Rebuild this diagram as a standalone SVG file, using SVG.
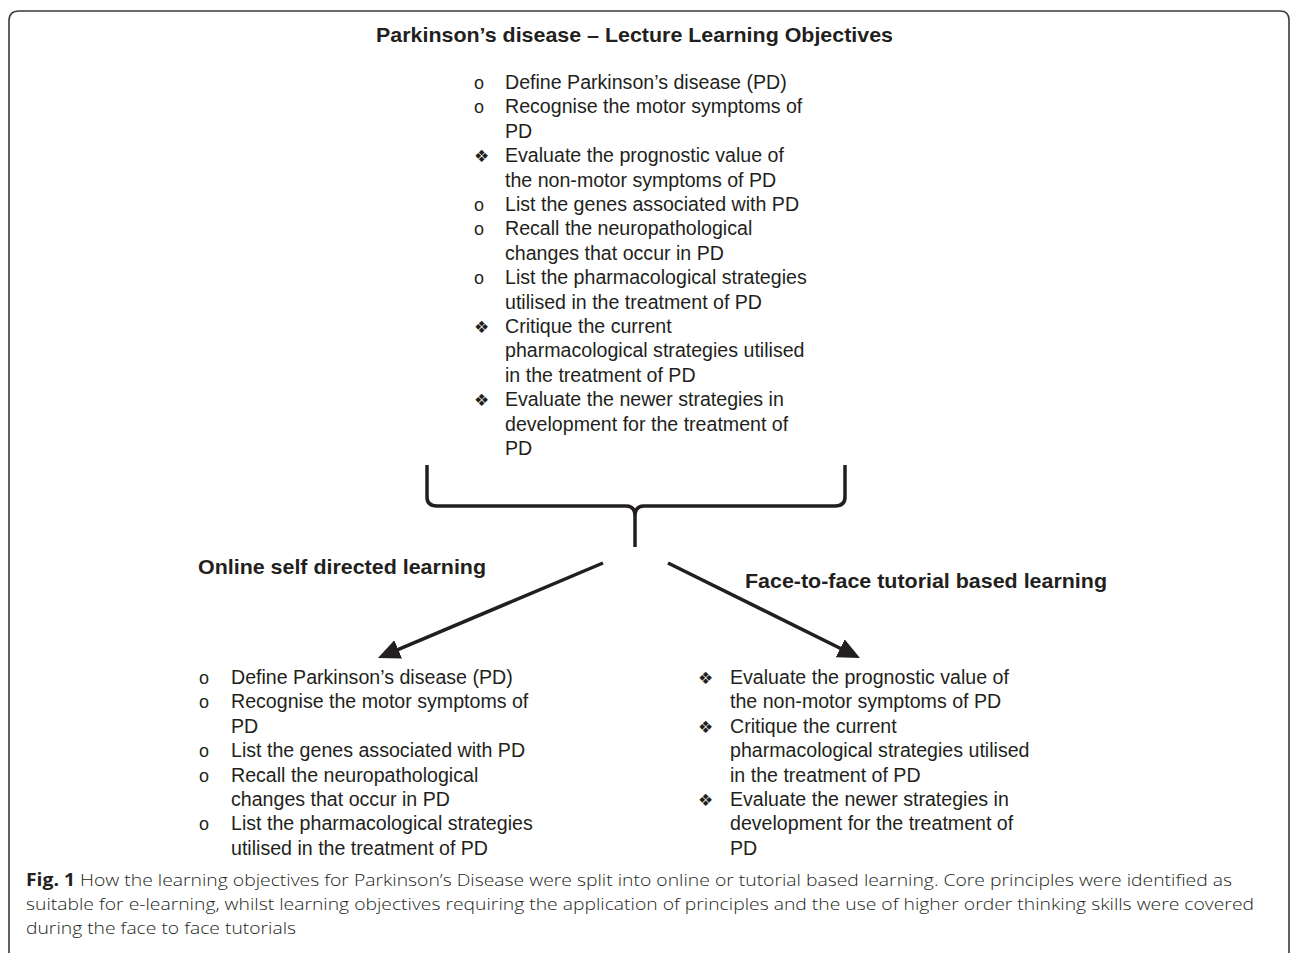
<svg xmlns="http://www.w3.org/2000/svg" width="1290" height="953" viewBox="0 0 1290 953">
<style>
.t{font-family:"Liberation Sans",Arial,sans-serif;font-size:19.6px;fill:#231f20}
.h{font-family:"Liberation Sans",Arial,sans-serif;font-size:20.5px;font-weight:bold;fill:#231f20}
.o{font-family:"Liberation Sans",Arial,sans-serif;font-size:18px;fill:#231f20}
.d{font-family:"DejaVu Sans",sans-serif;font-size:17px;fill:#231f20}
.c{font-family:"Open Sans","Liberation Sans",sans-serif;font-size:17px;fill:#231f20;font-weight:300}
.cb{font-weight:bold}
.ln{stroke:#231f20;stroke-width:3.5;fill:none}
</style>
<defs>
<marker id="ah" markerUnits="userSpaceOnUse" markerWidth="24" markerHeight="22" refX="10" refY="10" orient="auto">
<path d="M0,0 L22,10 L0,20 z" fill="#231f20"/>
</marker>
</defs>
<rect x="0" y="0" width="1290" height="953" fill="#fff"/>
<path d="M9,956 L9,21 Q9,11 19,11 L1280,11 Q1289,11 1289,20 L1289,960" fill="none" stroke="#3a3a3a" stroke-width="1.6"/>

<g id="title">
<text class="h" x="376" y="42" textLength="517" lengthAdjust="spacingAndGlyphs">Parkinson’s disease – Lecture Learning Objectives</text>
</g>

<g id="lecture-objectives">
<text class="o" x="474" y="89">o</text><text class="t" x="505" y="89">Define Parkinson’s disease (PD)</text>
<text class="o" x="474" y="113.4">o</text><text class="t" x="505" y="113.4">Recognise the motor symptoms of</text>
<text class="t" x="505" y="137.8">PD</text>
<text class="d" x="474" y="162.2">❖</text><text class="t" x="505" y="162.2">Evaluate the prognostic value of</text>
<text class="t" x="505" y="186.6">the non-motor symptoms of PD</text>
<text class="o" x="474" y="211">o</text><text class="t" x="505" y="211">List the genes associated with PD</text>
<text class="o" x="474" y="235.4">o</text><text class="t" x="505" y="235.4">Recall the neuropathological</text>
<text class="t" x="505" y="259.8">changes that occur in PD</text>
<text class="o" x="474" y="284.2">o</text><text class="t" x="505" y="284.2">List the pharmacological strategies</text>
<text class="t" x="505" y="308.6">utilised in the treatment of PD</text>
<text class="d" x="474" y="333">❖</text><text class="t" x="505" y="333">Critique the current</text>
<text class="t" x="505" y="357.4">pharmacological strategies utilised</text>
<text class="t" x="505" y="381.8">in the treatment of PD</text>
<text class="d" x="474" y="406.2">❖</text><text class="t" x="505" y="406.2">Evaluate the newer strategies in</text>
<text class="t" x="505" y="430.6">development for the treatment of</text>
<text class="t" x="505" y="455">PD</text>
</g>

<g id="online">
<text class="h" x="198" y="574" textLength="288" lengthAdjust="spacingAndGlyphs">Online self directed learning</text>
<text class="o" x="199" y="684">o</text><text class="t" x="231" y="684">Define Parkinson’s disease (PD)</text>
<text class="o" x="199" y="708.4">o</text><text class="t" x="231" y="708.4">Recognise the motor symptoms of</text>
<text class="t" x="231" y="732.8">PD</text>
<text class="o" x="199" y="757.2">o</text><text class="t" x="231" y="757.2">List the genes associated with PD</text>
<text class="o" x="199" y="781.6">o</text><text class="t" x="231" y="781.6">Recall the neuropathological</text>
<text class="t" x="231" y="806">changes that occur in PD</text>
<text class="o" x="199" y="830.4">o</text><text class="t" x="231" y="830.4">List the pharmacological strategies</text>
<text class="t" x="231" y="854.8">utilised in the treatment of PD</text>
</g>

<g id="face-to-face">
<text class="h" x="745" y="588" textLength="362" lengthAdjust="spacingAndGlyphs">Face-to-face tutorial based learning</text>
<text class="d" x="698" y="684">❖</text><text class="t" x="730" y="684">Evaluate the prognostic value of</text>
<text class="t" x="730" y="708.4">the non-motor symptoms of PD</text>
<text class="d" x="698" y="732.8">❖</text><text class="t" x="730" y="732.8">Critique the current</text>
<text class="t" x="730" y="757.2">pharmacological strategies utilised</text>
<text class="t" x="730" y="781.6">in the treatment of PD</text>
<text class="d" x="698" y="806">❖</text><text class="t" x="730" y="806">Evaluate the newer strategies in</text>
<text class="t" x="730" y="830.4">development for the treatment of</text>
<text class="t" x="730" y="854.8">PD</text>
</g>

<g id="connectors">
<path class="ln" stroke-width="4" d="M427,465 L427,497 Q427,506 437,506 L626,506 Q635,506 635,516 L635,547 M845,465 L845,497 Q845,506 835,506 L644,506 Q635,506 635,516"/>
<line class="ln" x1="603" y1="563" x2="389" y2="653.3" marker-end="url(#ah)"/>
<line class="ln" x1="668" y1="563" x2="849.2" y2="652.7" marker-end="url(#ah)"/>
</g>

<g id="caption">
<text class="c" x="26" y="886" textLength="1206" lengthAdjust="spacingAndGlyphs"><tspan class="cb">Fig. 1</tspan> How the learning objectives for Parkinson’s Disease were split into online or tutorial based learning. Core principles were identified as</text>
<text class="c" x="26" y="910" textLength="1228" lengthAdjust="spacingAndGlyphs">suitable for e-learning, whilst learning objectives requiring the application of principles and the use of higher order thinking skills were covered</text>
<text class="c" x="26" y="934" textLength="270" lengthAdjust="spacingAndGlyphs">during the face to face tutorials</text>
</g>
</svg>
